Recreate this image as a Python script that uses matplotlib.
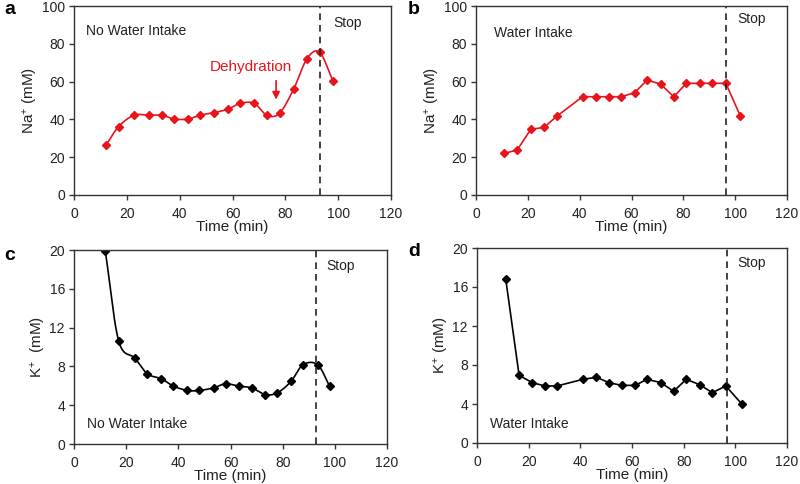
import numpy as np
import matplotlib
matplotlib.use("Agg")
import matplotlib.pyplot as plt

plt.rcParams['font.family'] = ['Liberation Sans', 'DejaVu Sans']
plt.rcParams['mathtext.fontset'] = 'custom'
plt.rcParams['mathtext.rm'] = 'Liberation Sans'
plt.rcParams['mathtext.it'] = 'Liberation Sans:italic'

# Panel a: Na+ without water intake
time_a = [12.1, 16.9, 22.7, 28.3, 33.3, 37.9, 43.2, 47.7, 53.1, 58.4, 62.9, 68.2, 73.0, 77.8, 83.1, 88.2, 93.0, 98.0]
na_a = [26.3, 36.2, 42.2, 42.2, 42.2, 40.2, 40.2, 42.2, 43.6, 45.5, 48.5, 48.5, 42.2, 43.2, 55.9, 72.1, 75.5, 60.3]
stop_a = 93.3

# Panel b: Na+ with water intake
time_b = [10.8, 15.9, 21.1, 26.2, 31.3, 41.1, 46.3, 51.4, 56.0, 61.2, 66.0, 71.2, 76.3, 81.2, 86.3, 91.2, 96.4, 102.0]
na_b = [22.0, 23.8, 34.7, 35.8, 41.8, 52.0, 52.0, 52.0, 52.0, 54.1, 60.8, 58.7, 52.0, 59.1, 59.1, 59.1, 59.1, 41.8]
stop_b = 96.4

# Panel c: K+ without water intake
time_c = [12.0, 17.1, 23.3, 28.1, 33.5, 38.1, 43.5, 48.1, 53.5, 58.1, 63.2, 68.1, 73.4, 78.0, 83.2, 87.8, 93.4, 98.0]
k_c = [19.9, 10.66, 8.86, 7.24, 6.72, 5.97, 5.52, 5.52, 5.79, 6.21, 5.97, 5.79, 5.10, 5.28, 6.45, 8.17, 8.17, 5.97]
stop_c = 92.9

# Panel d: K+ with water intake
time_d = [11.1, 16.3, 21.4, 26.3, 31.0, 41.0, 46.2, 51.1, 56.0, 61.2, 65.8, 71.2, 76.1, 81.0, 86.2, 91.1, 96.3, 102.5]
k_d = [16.85, 6.94, 6.19, 5.85, 5.85, 6.53, 6.74, 6.19, 5.91, 5.91, 6.53, 6.19, 5.30, 6.53, 5.98, 5.16, 5.85, 4.0]
stop_d = 96.8

RED = '#e8141c'
BLACK = '#000000'
TXT = '#222222'


def smooth(x, y, n=20):
    """Catmull-Rom style curve through the points (like a smoothed line)."""
    x = np.asarray(x, float)
    y = np.asarray(y, float)
    px = np.concatenate([[2 * x[0] - x[1]], x, [2 * x[-1] - x[-2]]])
    py = np.concatenate([[2 * y[0] - y[1]], y, [2 * y[-1] - y[-2]]])
    ox, oy = [], []
    t = np.linspace(0, 1, n, endpoint=False)
    for i in range(1, len(px) - 2):
        p0, p1, p2, p3 = [np.array([px[j], py[j]]) for j in (i - 1, i, i + 1, i + 2)]
        c1 = p1 + (p2 - p0) / 6.0
        c2 = p2 - (p3 - p1) / 6.0
        for tt in t:
            b = ((1 - tt) ** 3) * p1 + 3 * ((1 - tt) ** 2) * tt * c1 + 3 * (1 - tt) * tt ** 2 * c2 + tt ** 3 * p2
            ox.append(b[0]); oy.append(b[1])
    ox.append(x[-1]); oy.append(y[-1])
    return np.array(ox), np.array(oy)


fig = plt.figure(figsize=(8, 4.84), dpi=100)

positions = {
    'a': [74 / 800, 1 - 195 / 484, 317 / 800, 189 / 484],
    'b': [476 / 800, 1 - 195 / 484, 311 / 800, 189 / 484],
    'c': [74 / 800, 1 - 444 / 484, 313 / 800, 194 / 484],
    'd': [477 / 800, 1 - 443 / 484, 310 / 800, 195 / 484],
}


def style_axes(ax, ymax, ystep, ylabel):
    ax.set_xlim(0, 120)
    ax.set_ylim(0, ymax)
    ax.set_xticks(np.arange(0, 121, 20))
    ax.set_yticks(np.arange(0, ymax + 0.1, ystep))
    for s in ax.spines.values():
        s.set_color('#333333')
        s.set_linewidth(1.0)
    ax.tick_params(axis='both', direction='out', length=3.5, width=1.0, color='#333333',
                   labelsize=10, labelcolor=TXT)
    ax.tick_params(axis='x', pad=5)
    ax.tick_params(axis='y', pad=3)
    ax.set_xlabel('Time (min)', fontsize=11, color=TXT, labelpad=-0.5)
    ax.set_ylabel(ylabel, fontsize=11, color=TXT, labelpad=1)


MS = 4.3

# a
ax = fig.add_axes(positions['a'])
sx, sy = smooth(time_a, na_a)
ax.plot(sx, sy, color=RED, lw=1.2)
ax.plot(time_a, na_a, ls='none', marker='D', ms=MS, color=RED)
ax.axvline(stop_a, color=TXT, ls=(0, (4, 3)), lw=1.2)
style_axes(ax, 100, 20, r'Na$^{+}$ (mM)')
ax.text(4.5, 87, 'No Water Intake', fontsize=10, color=TXT, va='center')
ax.text(98, 91, 'Stop', fontsize=10, color=TXT, va='center')
ax.text(67, 67.5, 'Dehydration', fontsize=11, color=RED, ha='center', va='center')
ax.annotate('', xy=(76.5, 50.5), xytext=(76.5, 60.5),
            arrowprops=dict(arrowstyle='-|>', color=RED, lw=1.2, mutation_scale=11,
                            shrinkA=0, shrinkB=0))

# b
ax = fig.add_axes(positions['b'])
ax.plot(time_b, na_b, color=RED, lw=1.2, marker='D', ms=MS)
ax.axvline(stop_b, color=TXT, ls=(0, (4, 3)), lw=1.2)
style_axes(ax, 100, 20, r'Na$^{+}$ (mM)')
ax.text(6.9, 85.5, 'Water Intake', fontsize=10, color=TXT, va='center')
ax.text(101, 93, 'Stop', fontsize=10, color=TXT, va='center')

# c
ax = fig.add_axes(positions['c'])
sx, sy = smooth(time_c, k_c)
ax.plot(sx, sy, color=BLACK, lw=1.2)
ax.plot(time_c, k_c, ls='none', marker='D', ms=MS, color=BLACK)
ax.axvline(stop_c, color=TXT, ls=(0, (4, 3)), lw=1.2)
style_axes(ax, 20, 4, r'K$^{+}$  (mM)')
ax.text(5.1, 2.1, 'No Water Intake', fontsize=10, color=TXT, va='center')
ax.text(96.7, 18.4, 'Stop', fontsize=10, color=TXT, va='center')

# d
ax = fig.add_axes(positions['d'])
ax.plot(time_d, k_d, color=BLACK, lw=1.2, marker='D', ms=MS)
ax.axvline(stop_d, color=TXT, ls=(0, (4, 3)), lw=1.2)
style_axes(ax, 20, 4, r'K$^{+}$ (mM)')
ax.text(5.2, 2.0, 'Water Intake', fontsize=10, color=TXT, va='center')
ax.text(100.9, 18.5, 'Stop', fontsize=10, color=TXT, va='center')

# panel letters
for lab, (x, y) in {'a': (4, 10), 'b': (408, 10), 'c': (4, 256), 'd': (408, 252)}.items():
    fig.text(x / 800, 1 - y / 484, lab, fontsize=14, fontweight='bold', va='center', ha='left')

fig.savefig('out.png', dpi=100)
